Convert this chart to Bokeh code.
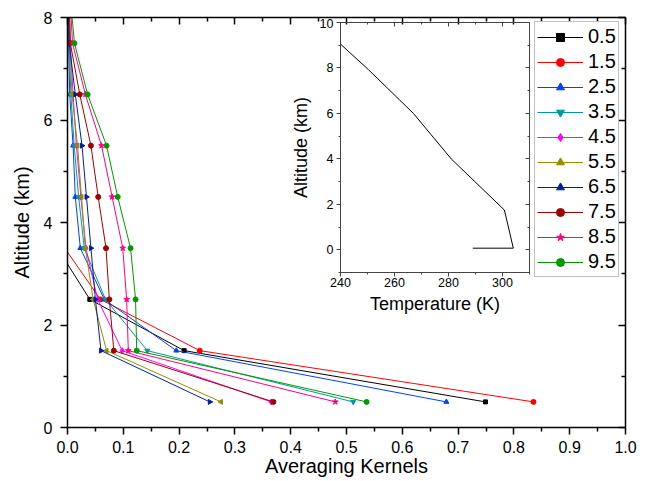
from math import pi
from bokeh.plotting import figure
from bokeh.models import Range1d, LinearAxis, FixedTicker, Legend, LegendItem, NumeralTickFormatter
from bokeh.layouts import column
from bokeh.embed import file_html
from bokeh.resources import INLINE

FONT = "Liberation Sans"

# ---------------- data ----------------
altitude_km = [0.5, 1.5, 2.5, 3.5, 4.5, 5.5, 6.5, 7.5, 8.5, 9.5]
series_names = ["0.5", "1.5", "2.5", "3.5", "4.5", "5.5", "6.5", "7.5", "8.5", "9.5"]

ak_0_5 = [0.749, 0.209, 0.040, -0.018, -0.020, -0.012, -0.005, 0.000, 0.002, 0.002]
ak_1_5 = [0.835, 0.237, 0.059, -0.005, -0.015, -0.012, -0.006, -0.002, 0.000, 0.000]
ak_2_5 = [0.679, 0.195, 0.066, 0.023, 0.014, 0.010, 0.004, 0.002, 0.001, 0.001]
ak_3_5 = [0.512, 0.143, 0.068, 0.030, 0.020, 0.012, 0.006, 0.003, 0.001, 0.001]
ak_4_5 = [0.365, 0.098, 0.054, 0.033, 0.024, 0.016, 0.010, 0.005, 0.002, 0.001]
ak_5_5 = [0.275, 0.070, 0.046, 0.032, 0.025, 0.018, 0.008, 0.004, 0.002, 0.001]
ak_6_5 = [0.255, 0.060, 0.050, 0.042, 0.034, 0.026, 0.014, 0.003, 0.001, 0.001]
ak_7_5 = [0.369, 0.083, 0.075, 0.069, 0.055, 0.042, 0.022, 0.005, 0.003, 0.002]
ak_8_5 = [0.480, 0.109, 0.106, 0.099, 0.080, 0.061, 0.032, 0.009, 0.004, 0.002]
ak_9_5 = [0.536, 0.124, 0.122, 0.113, 0.090, 0.070, 0.036, 0.0125, 0.004, 0.002]

x_ticks = [0.0, 0.1, 0.2, 0.3, 0.4, 0.5, 0.6, 0.7, 0.8, 0.9, 1.0]
x_minor_ticks = [0.05, 0.15, 0.25, 0.35, 0.45, 0.55, 0.65, 0.75, 0.85, 0.95]
y_ticks = [0, 2, 4, 6, 8]
y_minor_ticks = [1, 3, 5, 7]

temperature_K = [240.0, 250.4, 267.0, 281.0, 300.7, 304.0, 289.0]
temp_altitude_km = [9.05, 7.92, 6.0, 4.0, 1.75, 0.07, 0.07]
inset_x_ticks = [240, 260, 280, 300]
inset_x_minor = [250, 270, 290, 310]
inset_y_ticks = [0, 2, 4, 6, 8, 10]
inset_y_minor = [-1, 1, 3, 5, 7, 9]

series_values = [ak_0_5, ak_1_5, ak_2_5, ak_3_5, ak_4_5, ak_5_5, ak_6_5, ak_7_5, ak_8_5, ak_9_5]
colors = ["#000000", "#FF0000", "#0040FF", "#009999", "#FF00FF",
          "#8F8F00", "#0020A0", "#A00000", "#FF0080", "#009900"]
markers = ["square", "circle", "triangle", "inverted_triangle", "diamond",
           "triangle", "triangle", "circle", "star", "circle"]
angles = [0, 0, 0, 0, 0, pi / 2, -pi / 2, 0, 0, 0]
sizes = [4, 5, 5, 5, 6, 5, 5, 5, 6, 5]

# ---------------- main figure ----------------
p = figure(width=640, height=480, x_range=Range1d(0, 1), y_range=Range1d(0, 8),
           output_backend="svg", toolbar_location=None,
           min_border_left=67, min_border_right=15, min_border_top=17, min_border_bottom=53,
           x_axis_label="Averaging Kernels", y_axis_label="Altitude (km)")
p.grid.visible = False
p.outline_line_color = None
p.background_fill_color = "white"
p.border_fill_color = "white"


def style_common(ax, lw=1.5):
    ax.axis_line_width = lw
    ax.axis_line_color = "black"
    ax.major_tick_line_width = lw
    ax.minor_tick_line_width = lw
    ax.major_tick_line_color = "black"
    ax.minor_tick_line_color = "black"
    ax.major_label_text_font = FONT
    ax.axis_label_text_font = FONT
    ax.axis_label_text_font_style = "normal"
    ax.major_label_text_color = "black"
    ax.axis_label_text_color = "black"


xa = p.xaxis[0]
style_common(xa)
xa.ticker = FixedTicker(ticks=x_ticks, minor_ticks=x_minor_ticks)
xa.formatter = NumeralTickFormatter(format="0.0")
xa.major_label_text_font_size = "16px"
xa.axis_label_text_font_size = "20px"
xa.major_tick_out = 7
xa.major_tick_in = 0
xa.minor_tick_out = 4
xa.minor_tick_in = 0
xa.major_label_standoff = 6
xa.axis_label_standoff = -1

ya = p.yaxis[0]
style_common(ya)
ya.ticker = FixedTicker(ticks=y_ticks, minor_ticks=y_minor_ticks)
ya.major_label_text_font_size = "16px"
ya.axis_label_text_font_size = "20px"
ya.major_tick_out = 7
ya.major_tick_in = 0
ya.minor_tick_out = 4
ya.minor_tick_in = 0
ya.major_label_standoff = 8
ya.axis_label_standoff = 8

top_ax = LinearAxis(ticker=FixedTicker(ticks=x_ticks, minor_ticks=x_minor_ticks))
right_ax = LinearAxis(ticker=FixedTicker(ticks=y_ticks, minor_ticks=y_minor_ticks))
for ax in (top_ax, right_ax):
    style_common(ax)
    ax.major_label_text_color = None
    ax.major_label_standoff = 0
    ax.major_tick_in = 7
    ax.major_tick_out = 0
    ax.minor_tick_in = 4
    ax.minor_tick_out = 0
p.add_layout(top_ax, "above")
p.add_layout(right_ax, "right")

items = []
for name, vals, c, m, a, s in zip(series_names, series_values, colors, markers, angles, sizes):
    lr = p.line(vals, altitude_km, line_color=c, line_width=1)
    sr = p.scatter(vals, altitude_km, marker=m, angle=a, size=s,
                   fill_color=c, line_color=c)
    items.append(LegendItem(label=name, renderers=[lr, sr]))

legend = Legend(items=items, location=(467, 150))
legend.label_text_font = FONT
legend.label_text_font_size = "20px"
legend.label_text_color = "black"
legend.glyph_width = 46
legend.glyph_height = 20
legend.label_height = 25
legend.label_standoff = 5
legend.spacing = 0
legend.padding = 2
legend.margin = 0
legend.border_line_color = "#808080"
legend.border_line_width = 1.5
legend.background_fill_color = "white"
legend.background_fill_alpha = 1.0
p.add_layout(legend)

# ---------------- inset figure ----------------
# borders match the main figure's (column layouts align plot borders)
inset = figure(width=271, height=302, x_range=Range1d(240, 310), y_range=Range1d(-1, 10),
               output_backend="svg", toolbar_location=None,
               min_border_left=67, min_border_right=15, min_border_top=4, min_border_bottom=48,
               x_axis_label="Temperature (K)", y_axis_label="Altitude (km)")
inset.grid.visible = False
inset.outline_line_color = "#444444"
inset.background_fill_alpha = 0
inset.border_fill_alpha = 0
inset.line(temperature_K, temp_altitude_km, line_color="black", line_width=1)

ix = inset.xaxis[0]
iy = inset.yaxis[0]
for ax in (ix, iy):
    style_common(ax, lw=1)
    ax.axis_line_color = "#444444"
    ax.major_tick_line_color = "#444444"
    ax.minor_tick_line_color = "#444444"
    ax.major_label_text_font_size = "12.5px"
    ax.axis_label_text_font_size = "18px"
    ax.major_tick_out = 4
    ax.major_tick_in = 0
    ax.minor_tick_out = 2
    ax.minor_tick_in = 0
ix.ticker = FixedTicker(ticks=inset_x_ticks, minor_ticks=inset_x_minor)
iy.ticker = FixedTicker(ticks=inset_y_ticks, minor_ticks=inset_y_minor)
ix.major_label_standoff = 1
ix.axis_label_standoff = 4
iy.major_label_standoff = 3
iy.axis_label_standoff = 6

itop = LinearAxis(ticker=FixedTicker(ticks=inset_x_ticks, minor_ticks=inset_x_minor))
iright = LinearAxis(ticker=FixedTicker(ticks=inset_y_ticks, minor_ticks=inset_y_minor))
for ax in (itop, iright):
    style_common(ax, lw=1)
    ax.axis_line_color = "#444444"
    ax.major_tick_line_color = "#444444"
    ax.minor_tick_line_color = "#444444"
    ax.major_label_text_color = None
    ax.major_label_standoff = 0
    ax.major_tick_in = 4
    ax.major_tick_out = 0
    ax.minor_tick_in = 2
    ax.minor_tick_out = 0
inset.add_layout(itop, "above")
inset.add_layout(iright, "right")

inset.styles = {"position": "absolute", "left": "273px", "top": "18px"}

layout = column(p, inset)
layout.styles = {"position": "relative"}

open("out.html", "w").write(file_html(layout, INLINE))
